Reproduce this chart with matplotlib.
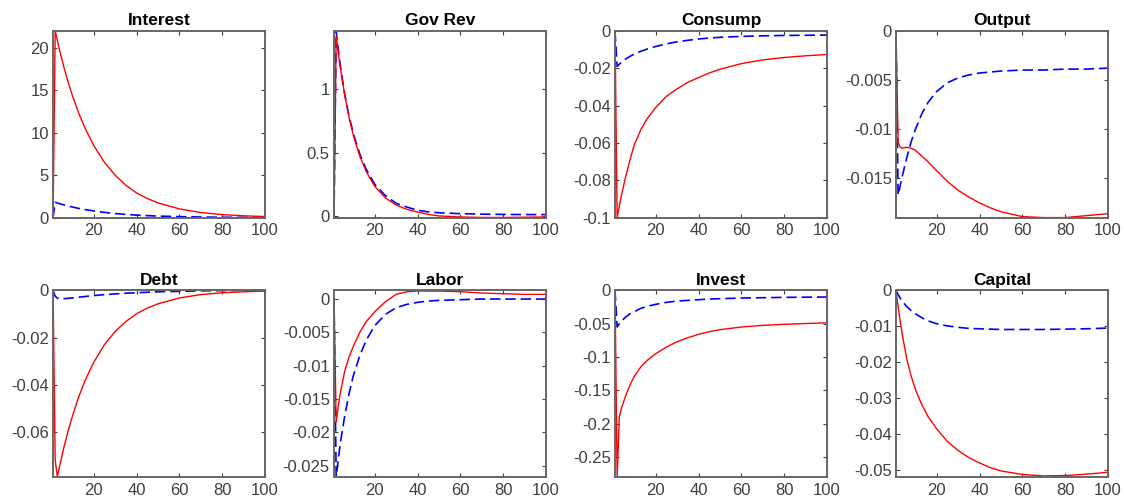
import matplotlib
matplotlib.use("Agg")
import matplotlib.pyplot as plt
from matplotlib.ticker import FuncFormatter

plt.rcParams['font.family'] = ['Liberation Sans', 'DejaVu Sans']
plt.rcParams['axes.unicode_minus'] = False
plt.rcParams['lines.scale_dashes'] = False

periods = [1, 2, 3, 4, 6, 8, 10, 13, 16, 20, 25, 30, 35, 40, 45, 50, 60, 70, 80, 90, 100]

titles = ['Interest', 'Gov Rev', 'Consump', 'Output', 'Debt', 'Labor', 'Invest', 'Capital']

# solid red responses
interest_red = [0, 22, 20.9, 19.8, 17.8, 16.0, 14.4, 12.3, 10.5, 8.5, 6.5, 5.0, 3.8, 2.9, 2.25, 1.73, 1.02, 0.60, 0.35, 0.21, 0.12]
govrev_red = [0, 1.42, 1.285, 1.163, 0.951, 0.779, 0.638, 0.473, 0.351, 0.234, 0.142, 0.086, 0.052, 0.031, 0.012, 0.0, -0.008, -0.012, -0.012, -0.010, -0.008]
consump_red = [0, -0.1, -0.094, -0.088, -0.078, -0.069, -0.061, -0.053, -0.047, -0.041, -0.035, -0.031, -0.0275, -0.025, -0.0225, -0.0205, -0.0175, -0.0155, -0.0142, -0.0133, -0.0126]
output_red = [0, -0.0114, -0.0119, -0.0120, -0.0119, -0.0120, -0.0122, -0.0128, -0.0134, -0.0143, -0.0154, -0.0163, -0.0170, -0.0176, -0.0181, -0.0185, -0.0190, -0.0191, -0.0191, -0.0189, -0.0187]
debt_red = [0, -0.072, -0.079, -0.0747, -0.0668, -0.0597, -0.0534, -0.0451, -0.0381, -0.0305, -0.0230, -0.0174, -0.0132, -0.0099, -0.0075, -0.0057, -0.0032, -0.0018, -0.0010, -0.0006, -0.0003]
labor_red = [0, -0.0185, -0.0160, -0.0140, -0.0108, -0.0087, -0.0071, -0.0050, -0.0034, -0.0019, -0.0004, 0.0007, 0.0011, 0.0012, 0.0012, 0.0012, 0.0011, 0.0009, 0.0008, 0.0007, 0.0007]
invest_red = [0, -0.28, -0.19, -0.177, -0.158, -0.142, -0.129, -0.115, -0.105, -0.095, -0.085, -0.077, -0.071, -0.066, -0.062, -0.059, -0.055, -0.0525, -0.051, -0.0497, -0.0487]
capital_red = [0, -0.0045, -0.0088, -0.0125, -0.019, -0.0237, -0.0275, -0.0318, -0.0352, -0.0386, -0.0421, -0.0446, -0.0466, -0.0481, -0.0494, -0.0503, -0.0513, -0.0517, -0.0516, -0.0512, -0.0507]

# dashed blue responses
interest_blue = [0, 1.8, 1.72, 1.64, 1.5, 1.37, 1.25, 1.08, 0.94, 0.78, 0.61, 0.48, 0.37, 0.29, 0.23, 0.18, 0.11, 0.07, 0.04, 0.03, 0.02]
govrev_blue = [0, 1.46, 1.31, 1.18, 0.96, 0.79, 0.65, 0.49, 0.37, 0.25, 0.16, 0.10, 0.07, 0.045, 0.032, 0.025, 0.018, 0.014, 0.012, 0.011, 0.010]
consump_blue = [0, -0.019, -0.0178, -0.0168, -0.015, -0.0136, -0.0124, -0.0109, -0.0097, -0.0083, -0.0069, -0.0058, -0.005, -0.0043, -0.0038, -0.0034, -0.0029, -0.0026, -0.0024, -0.0023, -0.0022]
output_blue = [0, -0.0168, -0.0158, -0.0148, -0.013, -0.0114, -0.0101, -0.0085, -0.0073, -0.0062, -0.0053, -0.0048, -0.0045, -0.0043, -0.0042, -0.0041, -0.0040, -0.0040, -0.0039, -0.0039, -0.0038]
debt_blue = [0, -0.0025, -0.0033, -0.0035, -0.0035, -0.0034, -0.0032, -0.0029, -0.0026, -0.0022, -0.0018, -0.0015, -0.0012, -0.0010, -0.0008, -0.0006, -0.0004, -0.0002, -0.0001, 0, 0]
labor_blue = [0, -0.0267, -0.0240, -0.0215, -0.0175, -0.0142, -0.0115, -0.0085, -0.0062, -0.0040, -0.0023, -0.0013, -0.0008, -0.0005, -0.0003, -0.0002, -0.0001, 0, 0, 0, 0]
invest_blue = [0, -0.055, -0.050, -0.046, -0.040, -0.035, -0.032, -0.027, -0.024, -0.021, -0.018, -0.016, -0.015, -0.014, -0.013, -0.0125, -0.0115, -0.011, -0.0105, -0.0102, -0.010]
capital_blue = [0, -0.0012, -0.0022, -0.0031, -0.0045, -0.0056, -0.0065, -0.0076, -0.0085, -0.0093, -0.0099, -0.0103, -0.0106, -0.0107, -0.0108, -0.0109, -0.0109, -0.0109, -0.0108, -0.0107, -0.0105]

red_series = [interest_red, govrev_red, consump_red, output_red, debt_red, labor_red, invest_red, capital_red]
blue_series = [interest_blue, govrev_blue, consump_blue, output_blue, debt_blue, labor_blue, invest_blue, capital_blue]

y_limits = [(0, 22), (-0.013, 1.46), (-0.1, 0), (-0.0191, 0),
            (-0.0791, 0), (-0.0267, 0.0013), (-0.28, 0), (-0.052, 0)]
y_ticks = [[0, 5, 10, 15, 20], [0, 0.5, 1], [-0.1, -0.08, -0.06, -0.04, -0.02, 0],
           [-0.015, -0.01, -0.005, 0], [-0.06, -0.04, -0.02, 0],
           [-0.025, -0.02, -0.015, -0.01, -0.005, 0],
           [-0.25, -0.2, -0.15, -0.1, -0.05, 0], [-0.05, -0.04, -0.03, -0.02, -0.01, 0]]
x_ticks = [20, 40, 60, 80, 100]

fig, axes = plt.subplots(2, 4, figsize=(11.24, 4.98), dpi=100)
fig.subplots_adjust(left=0.0472, right=0.9858, top=0.9378, bottom=0.0422,
                    wspace=0.325, hspace=0.39)

fmt = FuncFormatter(lambda v, pos: '%g' % round(v, 6))

for i, ax in enumerate(axes.flat):
    ax.plot(periods, blue_series[i], color='blue', linestyle='--', dashes=(7.5, 3.5), linewidth=1.2)
    ax.plot(periods, red_series[i], color='red', linewidth=1.0)
    ax.set_xlim(1, 100)
    ax.set_ylim(*y_limits[i])
    ax.set_xticks(x_ticks)
    ax.set_yticks(y_ticks[i])
    ax.yaxis.set_major_formatter(fmt)
    ax.set_title(titles[i], fontsize=12.5, fontweight='bold', pad=4)
    ax.tick_params(direction='in', length=3, width=0.8, top=True, right=True,
                   labelsize=12, colors='#404040', pad=4)
    ax.tick_params(axis='y', pad=3)
    for sp in ax.spines.values():
        sp.set_color('#666666')
        sp.set_linewidth(1.4)

fig.savefig('out.png', dpi=100)
